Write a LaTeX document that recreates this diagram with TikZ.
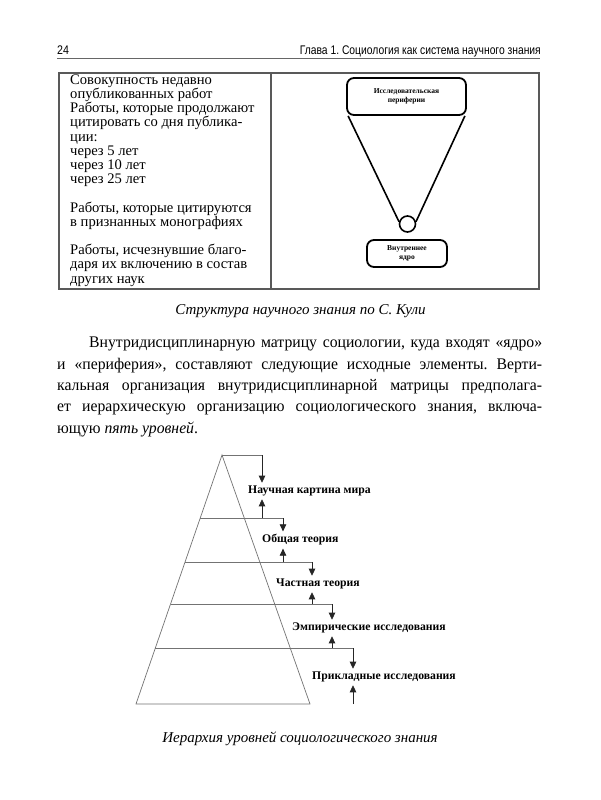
\documentclass[tikz,border=0pt]{standalone}
\usepackage{fontspec}
\setmainfont{Liberation Serif}
\newfontfamily\hdrfont{Liberation Sans}
\usepackage{graphicx}
\usetikzlibrary{arrows.meta}
\frenchspacing
\newcommand{\parline}[1]{\scalebox{0.97}[1]{\makebox[500pt][s]{#1}}}
\begin{document}
\begin{tikzpicture}[x=1pt,y=-1pt,
  tline/.style={draw=black!65,line width=1.6pt},
  pyr/.style={draw=black!55,line width=0.7pt},
  arr/.style={draw=black!85,line width=0.7pt,shorten >=3pt,-{Triangle[width=6.5pt,length=7pt]}},
  lvl/.style={font=\fontsize{11.7}{12}\selectfont\bfseries,inner sep=0pt,anchor=west},
  rbox/.style={draw,line width=1.8pt,rounded corners=7pt,inner sep=1pt,align=center,font=\fontsize{7.5}{8.5}\selectfont\bfseries},
  funnel/.style={draw,line width=1.6pt},
  capt/.style={font=\fontsize{15}{15}\selectfont\itshape,inner sep=0pt},
  ]
\useasboundingbox[fill=white] (0,0) rectangle (600,800);

% header
\node[anchor=base west,inner sep=0pt,font=\hdrfont\fontsize{12.5}{12.5}\selectfont] (pg) at (57,54.5) {\scalebox{0.85}[1]{24}};
\node[anchor=base east,inner sep=0pt,font=\hdrfont\fontsize{12.5}{12.5}\selectfont] (hd) at (541,54.5) {\scalebox{0.825}[1]{Глава 1. Социология как система научного знания}};
\draw[draw=black!60,line width=1.6pt] (57,58.5) -- (540,58.5);

% table
\draw[tline] (59,73) rectangle (539,289);
\draw[tline] (271,73) -- (271,289);

\node[anchor=north west,inner sep=0pt,align=left,font={\fontsize{14.6}{14.2}\selectfont\lineskiplimit=-10pt}] (lt) at (70,74.5)
{Совокупность недавно\\опубликованных работ\\Работы, которые продолжают\\цитировать со дня публика-\\ции:\\через 5 лет\\через 10 лет\\через 25 лет\\[14.2pt]Работы, которые цитируются\\в признанных монографиях\\[14.2pt]Работы, исчезнувшие благо-\\даря их включению в состав\\других наук};

% right cell picture
\node[rbox,minimum width=119pt,minimum height=37pt] (peri) at (406.5,96.5) {Исследовательская\\периферии};
\node[draw,circle,line width=1.6pt,minimum size=16pt,inner sep=0pt] (knot) at (407.5,224) {};
\node[rbox,minimum width=80pt,minimum height=27pt] (core) at (407,253.5) {Внутреннее\\ядро};
\draw[funnel] ([xshift=2pt]peri.south west) -- (knot.165);
\draw[funnel] ([xshift=-2pt]peri.south east) -- (knot.15);

% caption 1
\node[capt] (cap1) at (300.5,311) {Структура научного знания по С. Кули};

% paragraph
\node[anchor=north west,inner sep=0pt,align=left,font={\fontsize{16.2}{21.3}\selectfont\lineskiplimit=-10pt}] (par) at (57,337)
{\hspace*{32pt}\scalebox{0.97}[1]{\makebox[467pt][s]{Внутридисциплинарную матрицу социологии, куда входят «ядро»}}\\
\parline{и «периферия», составляют следующие исходные элементы. Верти-}\\
\parline{кальная организация внутридисциплинарной матрицы предполага-}\\
\parline{ет иерархическую организацию социологического знания, включа-}\\
\scalebox{0.97}[1]{ющую \textit{пять уровней}.}};

% pyramid
\coordinate (apex) at (222,455);
\coordinate (bl) at (136,704);
\coordinate (br) at (310,704);
\draw[pyr] (bl) -- (apex) -- (br) -- cycle;
\coordinate (t1) at (262,455);
\coordinate (t2) at (283,518);
\coordinate (t3) at (312,562);
\coordinate (t4) at (332,604);
\coordinate (t5) at (353,648);
\coordinate (u1) at (262,518);
\coordinate (u2) at (283,562);
\coordinate (u3) at (312,604);
\coordinate (u4) at (332,648);
\coordinate (u5) at (353,704);
\draw[pyr] (apex) -- (t1);
\draw[pyr] (200.2,518) -- (t2);
\draw[pyr] (185,562) -- (t3);
\draw[pyr] (170.5,604) -- (t4);
\draw[pyr] (155.3,648) -- (t5);

\node[lvl] (l1) at (248,491) {Научная картина мира};
\node[lvl] (l2) at (262,540) {Общая теория};
\node[lvl] (l3) at (276,584) {Частная теория};
\node[lvl] (l4) at (292,628) {Эмпирические исследования};
\node[lvl] (l5) at (312,677) {Прикладные исследования};

\foreach \i in {1,...,5}{
  \draw[arr] (t\i) -- (t\i |- l\i.north);
  \draw[arr] (u\i) -- (u\i |- l\i.south);
}

% caption 2
\node[capt] (cap2) at (300,739) {Иерархия уровней социологического знания};
\end{tikzpicture}
\end{document}
